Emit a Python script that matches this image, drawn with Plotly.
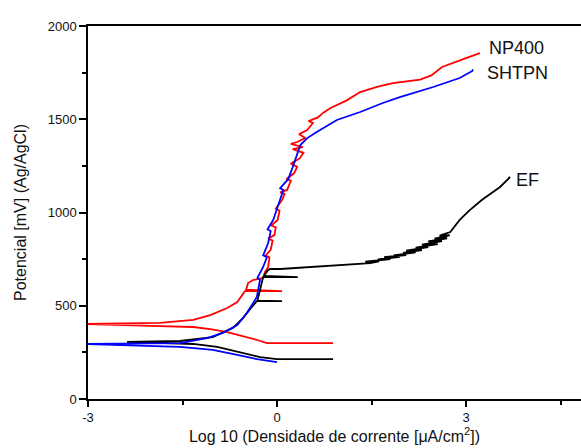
import plotly.graph_objects as go

# NP400 (red)
np400_x = [0.89, -0.16, -0.30, -0.48, -0.79, -1.06, -1.33, -1.86, -2.38, -3.1,
           -1.86, -1.33, -1.06, -0.79, -0.63, -0.54, -0.51, 0.08, -0.49,
           -0.46, -0.38, -0.22, -0.19, -0.14, -0.12, -0.18, -0.10, -0.07, -0.14, -0.04,
           -0.02, -0.09, 0.01, 0.04, -0.02, 0.08, 0.12, 0.05, 0.16, 0.22, 0.15, 0.27, 0.32,
           0.22, 0.36, 0.42, 0.25, 0.41, 0.22, 0.32, 0.45, 0.35, 0.48, 0.57, 0.50, 0.65,
           0.73, 0.85, 0.95, 1.10, 1.32, 1.60, 1.84, 2.27, 2.45, 2.62, 3.00, 3.22]
np400_y = [300, 300, 315, 332, 359, 375, 386, 391, 397, 402,
           408, 424, 450, 488, 520, 563, 578, 578, 586,
           622, 638, 649, 681, 708, 760, 770, 800, 850, 860, 880,
           920, 930, 960, 1010, 1020, 1067, 1100, 1108, 1121, 1170, 1180, 1210, 1244,
           1262, 1290, 1320, 1340, 1351, 1368, 1378, 1400, 1420, 1442, 1480, 1490, 1510,
           1534, 1560, 1576, 1600, 1646, 1675, 1694, 1712, 1735, 1780, 1828, 1855]

# SHTPN (blue)
shtpn_x = [0.0, -0.32, -0.63, -1.02, -1.54, -2.38, -3.1,
           -1.54, -1.11, -0.86, -0.63, -0.48, -0.38, -0.32, -0.27, -0.31, -0.22, -0.16,
           -0.22, -0.14, -0.10, -0.15, -0.06, 0.05, 0.10, 0.05, 0.18, 0.25, 0.37, 0.48,
           0.63, 0.95, 1.32, 1.68, 1.95, 2.48, 2.90, 3.10, 3.11]
shtpn_y = [198, 214, 236, 263, 279, 290, 295,
           300, 327, 354, 397, 461, 515, 547, 638, 650, 708, 760,
           770, 836, 900, 910, 960, 1067, 1121, 1130, 1180, 1244, 1362, 1399,
           1432, 1496, 1539, 1587, 1619, 1673, 1721, 1759, 1768]

# EF (black)
ef_x = [0.89, 0.0, -0.27, -0.59, -0.95, -1.33, -1.86, -2.38,
        -1.54, -1.02, -0.70, -0.54, -0.40, -0.32, 0.08, -0.31, -0.27, -0.22, 0.33, -0.21,
        -0.14, -0.11, 0.05, 0.57, 1.11, 1.30, 1.48,
        1.62, 1.40, 1.80, 1.60, 1.95, 1.70, 2.05, 1.85, 2.20, 2.00, 2.30, 2.05, 2.40, 2.20,
        2.55, 2.30, 2.62, 2.40, 2.70, 2.50, 2.74, 2.58, 2.75,
        2.90, 3.05, 3.25, 3.54, 3.70, 3.66]
ef_y = [214, 214, 225, 252, 279, 295, 300, 306,
        311, 332, 381, 434, 493, 525, 525, 528, 584, 654, 654, 660,
        692, 697, 697, 708, 718, 724, 729,
        738, 736, 750, 748, 762, 760, 772, 770, 786, 784, 798, 796, 814, 812,
        830, 828, 846, 845, 862, 860, 878, 876, 895,
        960, 1010, 1067, 1137, 1190, 1180]

labels = ["NP400", "SHTPN", "EF"]
label_x = [3.33, 3.30, 3.76]
label_y = [1882, 1748, 1174]

fig = go.Figure()
for xs, ys, col in [(np400_x, np400_y, "#ff0000"), (ef_x, ef_y, "#000000"), (shtpn_x, shtpn_y, "#0000ff")]:
    fig.add_trace(go.Scatter(x=xs, y=ys, mode="lines", line=dict(color=col, width=1.8),
                             showlegend=False, hoverinfo="skip"))

for t, x, y in zip(labels, label_x, label_y):
    fig.add_annotation(x=x, y=y, text=t, showarrow=False, xanchor="left", yanchor="middle",
                       font=dict(family="Liberation Sans, Arial", size=18, color="#111111"))

fig.update_layout(
    width=581, height=448,
    margin=dict(l=88, r=0, t=26, b=49),
    paper_bgcolor="white", plot_bgcolor="white",
    font=dict(family="Liberation Sans, Arial", color="#111111"),
)
fig.update_xaxes(range=[-3, 4.825], tickvals=[-3, 0, 3], ticktext=["-3", "0", "3"],
                 ticks="outside", ticklen=6, tickwidth=1.5, tickcolor="black",
                 minor=dict(tickvals=[-1.5, 1.5, 4.5], ticks="outside", ticklen=4, tickwidth=1.5, tickcolor="black"),
                 showline=True, linecolor="black", linewidth=1.5, mirror=True,
                 showgrid=False, zeroline=False, tickfont=dict(size=13),
                 title=dict(text="Log 10 (Densidade de corrente [μA/cm<sup>2</sup>])", font=dict(size=16), standoff=2))
fig.update_yaxes(range=[0, 2000], tickvals=[0, 500, 1000, 1500, 2000],
                 ticks="outside", ticklen=7, tickwidth=1.5, tickcolor="black",
                 minor=dict(tickvals=[250, 750, 1250, 1750], ticks="outside", ticklen=4, tickwidth=1.5, tickcolor="black"),
                 showline=True, linecolor="black", linewidth=1.5,
                 showgrid=False, zeroline=False, tickfont=dict(size=13),
                 title=dict(text="Potencial [mV] (Ag/AgCl)", font=dict(size=16), standoff=17))

fig.write_html("out.html")
